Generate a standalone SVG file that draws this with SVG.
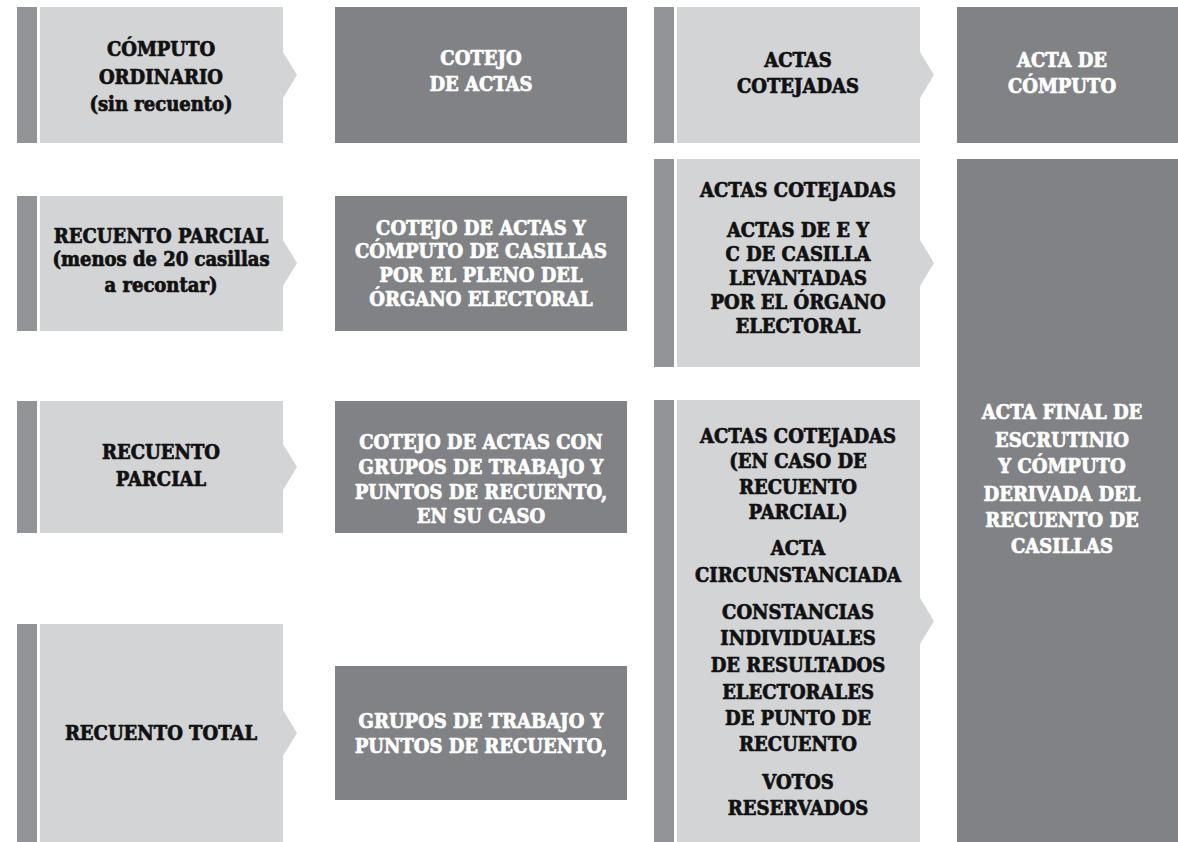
<svg xmlns="http://www.w3.org/2000/svg" width="1178" height="842" viewBox="0 0 1178 842">
<style>
.bar{fill:#929497}
.lt{fill:#d3d4d6}
.dk{fill:#808285}
text{font-family:"DejaVu Serif Condensed","DejaVu Serif",serif;font-weight:bold;font-size:20px;text-anchor:middle;stroke-width:0.7;stroke-linejoin:round}
.b{fill:#111;stroke:#111}
.w{fill:#fff;stroke:#fff}
</style>
<rect width="1178" height="842" fill="#fff"/>
<g id="connectors">
<polygon class="lt" points="283,52 297,75 283,98"/>
<polygon class="lt" points="283,240 297,263 283,286"/>
<polygon class="lt" points="283,444 297,467 283,490"/>
<polygon class="lt" points="283,710 297,733 283,756"/>
<polygon class="lt" points="920,52 934,75 920,98"/>
<polygon class="lt" points="920,240 934,263 920,286"/>
<polygon class="lt" points="920,598 934,621 920,644"/>
</g>
<g id="n-computo-ordinario">
<rect class="bar" x="17" y="7" width="20" height="136"/>
<rect class="lt" x="40" y="7" width="243" height="136"/>
<text class="b" x="161" y="56">CÓMPUTO</text>
<text class="b" x="161" y="84">ORDINARIO</text>
<text class="b" x="161" y="111">(sin recuento)</text>
</g>
<g id="n-cotejo-actas">
<rect class="dk" x="335" y="7" width="292" height="136"/>
<text class="w" x="481" y="65">COTEJO</text>
<text class="w" x="481" y="91">DE ACTAS</text>
</g>
<g id="n-actas-cotejadas">
<rect class="bar" x="654" y="7" width="20" height="136"/>
<rect class="lt" x="677" y="7" width="243" height="136"/>
<text class="b" x="798" y="67">ACTAS</text>
<text class="b" x="798" y="93">COTEJADAS</text>
</g>
<g id="n-acta-computo">
<rect class="dk" x="957" y="7" width="221" height="136"/>
<text class="w" x="1062" y="67">ACTA DE</text>
<text class="w" x="1062" y="93">CÓMPUTO</text>
</g>
<g id="n-recuento-parcial-20">
<rect class="bar" x="17" y="196" width="20" height="135"/>
<rect class="lt" x="40" y="196" width="243" height="135"/>
<text class="b" x="161" y="243">RECUENTO PARCIAL</text>
<text class="b" x="161" y="266">(menos de 20 casillas</text>
<text class="b" x="161" y="292">a recontar)</text>
</g>
<g id="n-cotejo-pleno">
<rect class="dk" x="335" y="196" width="292" height="135"/>
<text class="w" x="481" y="235">COTEJO DE ACTAS Y</text>
<text class="w" x="481" y="258">CÓMPUTO DE CASILLAS</text>
<text class="w" x="481" y="282">POR EL PLENO DEL</text>
<text class="w" x="481" y="306">ÓRGANO ELECTORAL</text>
</g>
<g id="n-actas-levantadas">
<rect class="bar" x="654" y="159" width="20" height="208"/>
<rect class="lt" x="677" y="159" width="243" height="208"/>
<text class="b" x="798" y="197">ACTAS COTEJADAS</text>
<text class="b" x="798" y="237">ACTAS DE E Y</text>
<text class="b" x="798" y="261">C DE CASILLA</text>
<text class="b" x="798" y="285">LEVANTADAS</text>
<text class="b" x="798" y="309">POR EL ÓRGANO</text>
<text class="b" x="798" y="333">ELECTORAL</text>
</g>
<g id="n-acta-final">
<rect class="dk" x="957" y="159" width="221" height="683"/>
<text class="w" x="1062" y="419">ACTA FINAL DE</text>
<text class="w" x="1062" y="447">ESCRUTINIO</text>
<text class="w" x="1062" y="473">Y CÓMPUTO</text>
<text class="w" x="1062" y="501">DERIVADA DEL</text>
<text class="w" x="1062" y="527">RECUENTO DE</text>
<text class="w" x="1062" y="553">CASILLAS</text>
</g>
<g id="n-recuento-parcial">
<rect class="bar" x="17" y="401" width="20" height="132"/>
<rect class="lt" x="40" y="401" width="243" height="132"/>
<text class="b" x="161" y="459">RECUENTO</text>
<text class="b" x="161" y="486">PARCIAL</text>
</g>
<g id="n-cotejo-grupos">
<rect class="dk" x="335" y="401" width="292" height="132"/>
<text class="w" x="481" y="449">COTEJO DE ACTAS CON</text>
<text class="w" x="481" y="474">GRUPOS DE TRABAJO Y</text>
<text class="w" x="481" y="499">PUNTOS DE RECUENTO,</text>
<text class="w" x="481" y="523">EN SU CASO</text>
</g>
<g id="n-actas-circunstanciada">
<rect class="bar" x="654" y="400" width="20" height="442"/>
<rect class="lt" x="677" y="400" width="243" height="442"/>
<text class="b" x="798" y="443">ACTAS COTEJADAS</text>
<text class="b" x="798" y="468">(EN CASO DE</text>
<text class="b" x="798" y="494">RECUENTO</text>
<text class="b" x="798" y="519">PARCIAL)</text>
<text class="b" x="798" y="555">ACTA</text>
<text class="b" x="798" y="582">CIRCUNSTANCIADA</text>
<text class="b" x="798" y="619">CONSTANCIAS</text>
<text class="b" x="798" y="645">INDIVIDUALES</text>
<text class="b" x="798" y="672">DE RESULTADOS</text>
<text class="b" x="798" y="699">ELECTORALES</text>
<text class="b" x="798" y="725">DE PUNTO DE</text>
<text class="b" x="798" y="751">RECUENTO</text>
<text class="b" x="798" y="789">VOTOS</text>
<text class="b" x="798" y="815">RESERVADOS</text>
</g>
<g id="n-recuento-total">
<rect class="bar" x="17" y="624" width="20" height="218"/>
<rect class="lt" x="40" y="624" width="243" height="218"/>
<text class="b" x="161" y="740">RECUENTO TOTAL</text>
</g>
<g id="n-grupos-trabajo">
<rect class="dk" x="335" y="666" width="292" height="134"/>
<text class="w" x="481" y="728">GRUPOS DE TRABAJO Y</text>
<text class="w" x="481" y="753">PUNTOS DE RECUENTO,</text>
</g>
</svg>
